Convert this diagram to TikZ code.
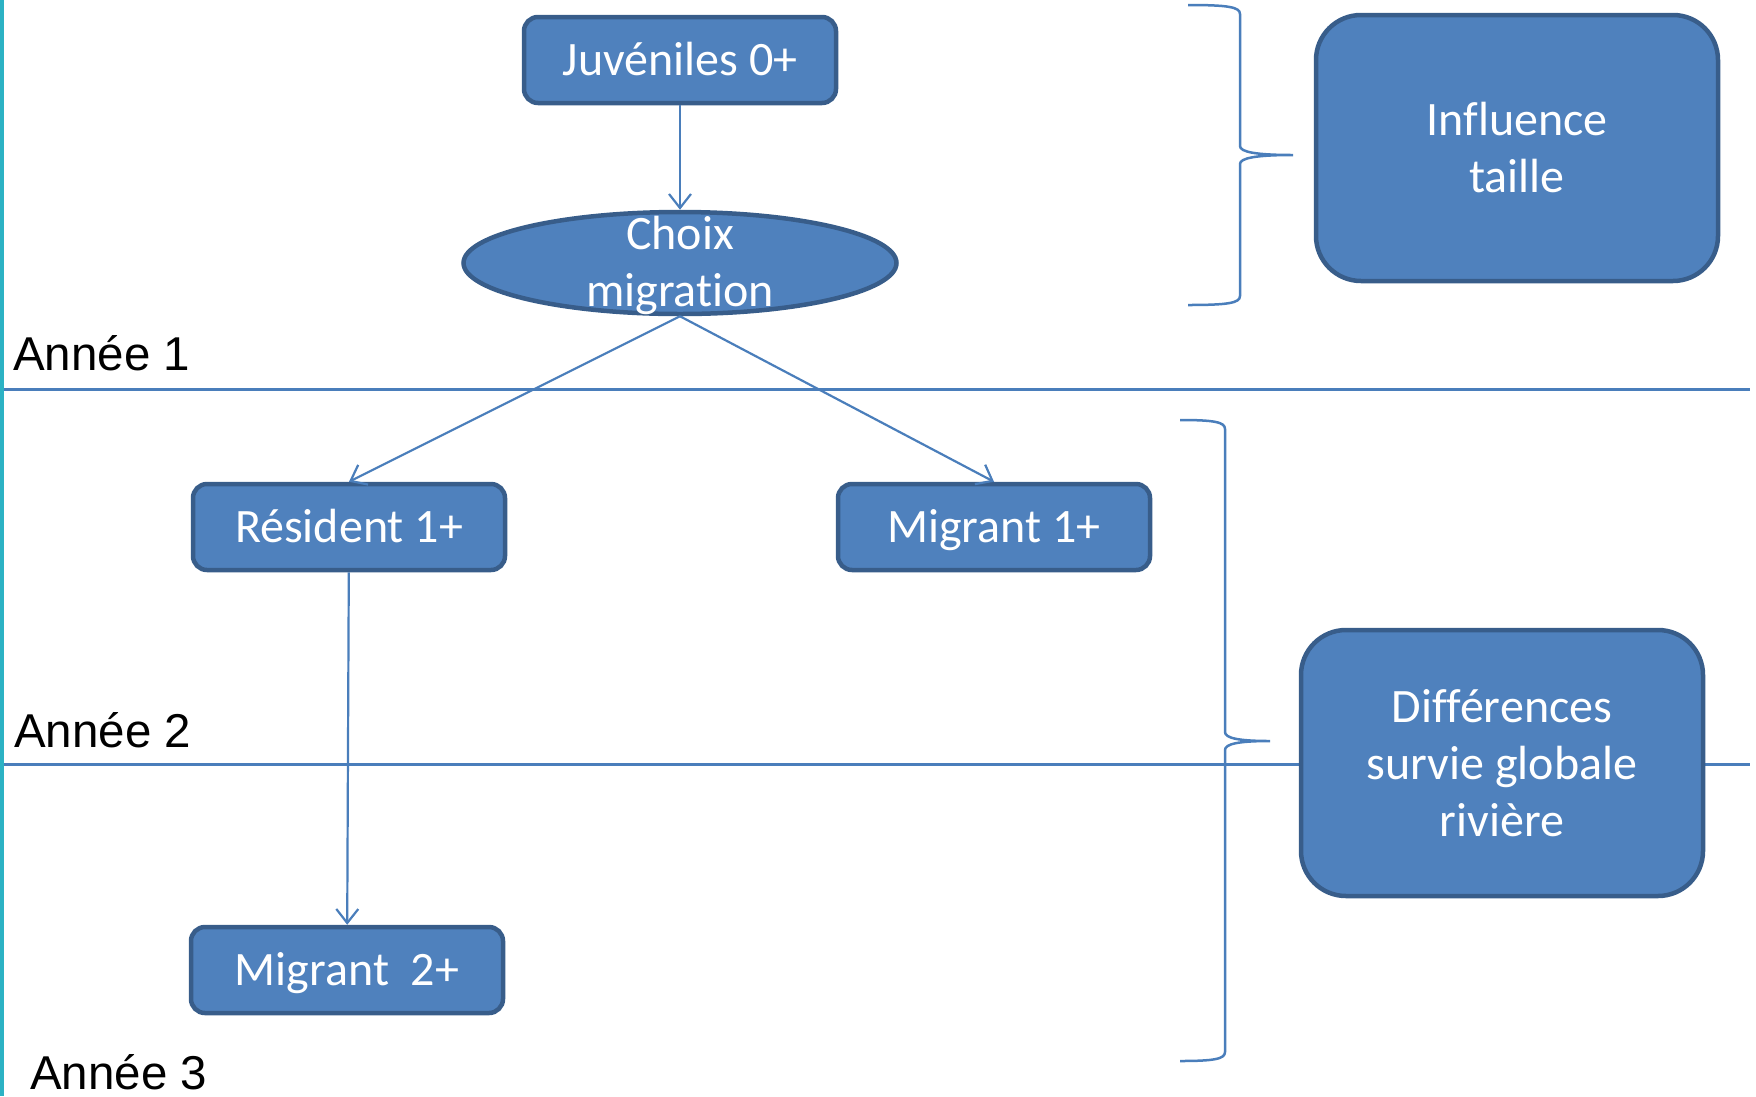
\documentclass[tikz,border=0pt]{standalone}
\usepackage{fontspec}
\setmainfont{Carlito}[Ligatures=NoCommon]
\newfontfamily\arialfont{Liberation Sans}
\usetikzlibrary{shapes.geometric, arrows.meta}

\definecolor{boxblue}{HTML}{4F81BD}
\definecolor{boxline}{HTML}{385D8A}
\definecolor{linkblue}{HTML}{4A7EBB}
\definecolor{stripteal}{RGB}{44,178,196}

\begin{document}
\begin{tikzpicture}[x=1pt, y=-1pt, ->, >={Straight Barb[length=14pt, width=22pt]},
    box/.style={rectangle, rounded corners=14pt, draw=boxline, line width=4.5pt, fill=boxblue,
      text=white, font=\fontsize{48}{57}\selectfont, align=center, inner sep=0pt,
      minimum width=312pt, minimum height=86pt},
    smallbox/.style={box, text height=33pt, text depth=3pt},
    bigbox/.style={box, rounded corners=45pt, minimum width=402pt, minimum height=266pt},
    choice/.style={ellipse, draw=boxline, line width=4.5pt, fill=boxblue, inner sep=0pt,
      minimum width=433pt, minimum height=102pt},
    lbl/.style={text=white, font=\fontsize{48}{57}\selectfont, align=center, inner sep=0pt},
    year/.style={font=\arialfont\fontsize{47.5}{55}\selectfont, anchor=base west, inner sep=0pt},
    yearline/.style={-, draw=linkblue, line width=3pt},
    conn/.style={draw=linkblue, line width=2.2pt}]
    \useasboundingbox (0,0) rectangle (1756,1096);
    \fill[stripteal] (0,0) rectangle (4,1096);
    % year separations
    \draw[yearline] (4,389) -- (1750,389);
    \draw[yearline] (4,764) -- (1750,764);
    \node[year] (an1) at (13,370) {Année 1};
    \node[year] (an2) at (14,747) {Année 2};
    \node[year] (an3) at (30,1089) {Année 3};
    % braces
    \draw[conn, -, line width=2.5pt] (1188,5) .. controls (1228,5) and (1240,7) .. (1240,14) -- (1240,146)
      .. controls (1240,152) and (1256,155) .. (1293,155) .. controls (1256,155) and (1240,158) .. (1240,164)
      -- (1240,296) .. controls (1240,303) and (1228,305) .. (1188,305);
    \draw[conn, -, line width=2.5pt] (1180,420) .. controls (1214,420) and (1225,422) .. (1225,429) -- (1225,732)
      .. controls (1225,738) and (1238,741) .. (1270,741) .. controls (1238,741) and (1225,744) .. (1225,750)
      -- (1225,1052) .. controls (1225,1059) and (1214,1061) .. (1180,1061);
    % states
    \node[smallbox] (juv) at (680,60) {Juvéniles 0+};
    \node[choice] (choix) at (680,263) {};
    \node[lbl] (choixlbl) at (680,265) {Choix\\migration};
    \node[smallbox] (res) at (349,527) {Résident 1+};
    \node[smallbox] (mig1) at (994,527) {Migrant 1+};
    \node[smallbox] (mig2) at (347,970) {Migrant~~2+};
    \node[bigbox] (infl) at (1517,148) {Influence\\taille};
    \node[bigbox] (diff) at (1502,763) {Différences\\survie globale\\rivière};
    \draw[conn] (juv) -- (choix);
    \draw[conn] (choix.south) -- (res.north);
    \draw[conn] (choix.south) -- (mig1.north);
    \draw[conn] (res) -- (mig2);
\end{tikzpicture}
\end{document}
